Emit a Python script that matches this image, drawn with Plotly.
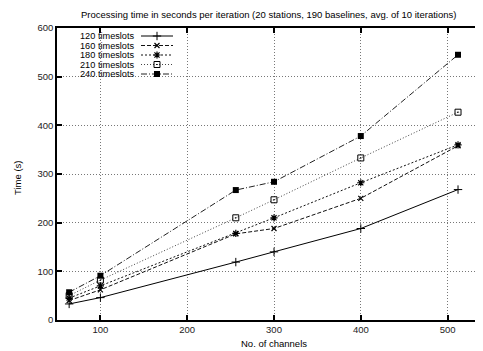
import plotly.graph_objects as go

channels = [64, 100, 256, 300, 400, 512]
t120 = [33, 46, 119, 140, 188, 268]
t160 = [40, 62, 177, 188, 250, 358]
t180 = [45, 70, 178, 210, 282, 360]
t210 = [50, 82, 210, 247, 333, 427]
t240 = [57, 91, 267, 284, 378, 545]
series_names = ["120 timeslots", "160 timeslots", "180 timeslots", "210 timeslots", "240 timeslots"]
series_values = [t120, t160, t180, t210, t240]
x_ticks = [100, 200, 300, 400, 500]
y_ticks = [0, 100, 200, 300, 400, 500, 600]

# The page body adds an 8px offset; layout below is expressed in window pixels.
OFF = 8
W, H = 483, 351
PL, PT, PB, PR = 57, 28, 320, 491  # plot area in window pixels
L = PL - OFF
T = PT - OFF
B = H - (PB - OFF)
R = W - (PR - OFF)
FONT = "Liberation Sans, Arial, sans-serif"

styles = [
    dict(dash="solid", color="#000", symbol="cross-thin-open", msize=6, mline=1),
    dict(dash="4px,2px", color="#111", symbol="x-thin-open", msize=5, mline=1.2),
    dict(dash="2px,2px", color="#111", symbol="asterisk-open", msize=6, mline=1.2),
    dict(dash="1px,2px", color="#444", symbol="square-open-dot", msize=6, mline=1),
    dict(dash="6px,2px,1px,2px", color="#222", symbol="square", msize=6, mline=0),
]

fig = go.Figure()
for name, vals, st in zip(series_names, series_values, styles):
    fig.add_trace(go.Scatter(
        x=channels, y=vals, mode="lines+markers", name=name, showlegend=False,
        line=dict(color=st["color"], width=1, dash=st["dash"]),
        marker=dict(symbol=st["symbol"], size=st["msize"], color="#000",
                    line=dict(color="#000", width=st["mline"])),
    ))

# custom legend (gnuplot style: text on the left, sample on the right), window-pixel layout
row_y = [36, 45.5, 55, 64.5, 74]
sample_x0, sample_x1, text_right = 141, 173, 137
for name, st, ry in zip(series_names, styles, row_y):
    fig.add_trace(go.Scatter(
        x=[sample_x0, sample_x1], y=[ry, ry], mode="lines", xaxis="x2", yaxis="y2",
        showlegend=False, hoverinfo="skip",
        line=dict(color=st["color"], width=1, dash=st["dash"]),
    ))
    fig.add_trace(go.Scatter(
        x=[(sample_x0 + sample_x1) / 2], y=[ry], mode="markers", xaxis="x2", yaxis="y2",
        showlegend=False, hoverinfo="skip",
        marker=dict(symbol=st["symbol"], size=st["msize"], color="#000",
                    line=dict(color="#000", width=st["mline"])),
    ))
    fig.add_annotation(x=text_right, y=ry, xref="x2", yref="y2", text=name,
                       showarrow=False, xanchor="right", yanchor="middle",
                       font=dict(family=FONT, size=9.2, color="#000"))

pw = PR - PL
ph = PB - PT
def px(x):
    return (x - PL) / pw
def py(y):
    return (PB - y) / ph

fig.add_annotation(x=px(268.5), y=py(14), xref="paper", yref="paper",
                   text="Processing time in seconds per iteration (20 stations, 190 baselines, avg. of 10 iterations)",
                   showarrow=False, xanchor="center", yanchor="middle",
                   font=dict(family=FONT, size=9.5, color="#000"))
fig.add_annotation(x=px(274), y=py(343), xref="paper", yref="paper",
                   text="No. of channels", showarrow=False, xanchor="center", yanchor="middle",
                   font=dict(family=FONT, size=9.5, color="#000"))
fig.add_annotation(x=px(17), y=py(178), xref="paper", yref="paper",
                   text="Time (s)", showarrow=False, textangle=-90, xanchor="center", yanchor="middle",
                   font=dict(family=FONT, size=9.5, color="#000"))

axis_font = dict(family=FONT, size=9.5, color="#222")
fig.update_layout(
    width=W, height=H,
    margin=dict(l=L, r=R, t=T, b=B, autoexpand=False),
    paper_bgcolor="white", plot_bgcolor="white",
    xaxis=dict(range=[50, 550], tickvals=x_ticks, ticks="inside", ticklen=5, tickwidth=1.5,
               tickcolor="#000", showline=True, linecolor="#000", linewidth=1.5, mirror="ticks",
               showgrid=True, gridcolor="#777", griddash="1px,2px", gridwidth=1, zeroline=False,
               tickfont=axis_font),
    yaxis=dict(range=[0, 600], tickvals=y_ticks, ticks="inside", ticklen=5, tickwidth=1.5,
               tickcolor="#000", showline=True, linecolor="#000", linewidth=1.5,
               showgrid=True, gridcolor="#777", griddash="1px,2px", gridwidth=1, zeroline=False,
               tickfont=axis_font),
    xaxis2=dict(range=[PL, PR], overlaying="x", visible=False, fixedrange=True),
    yaxis2=dict(range=[PB, PT], overlaying="y", visible=False, fixedrange=True),
    showlegend=False,
)

fig.write_html("out.html")
